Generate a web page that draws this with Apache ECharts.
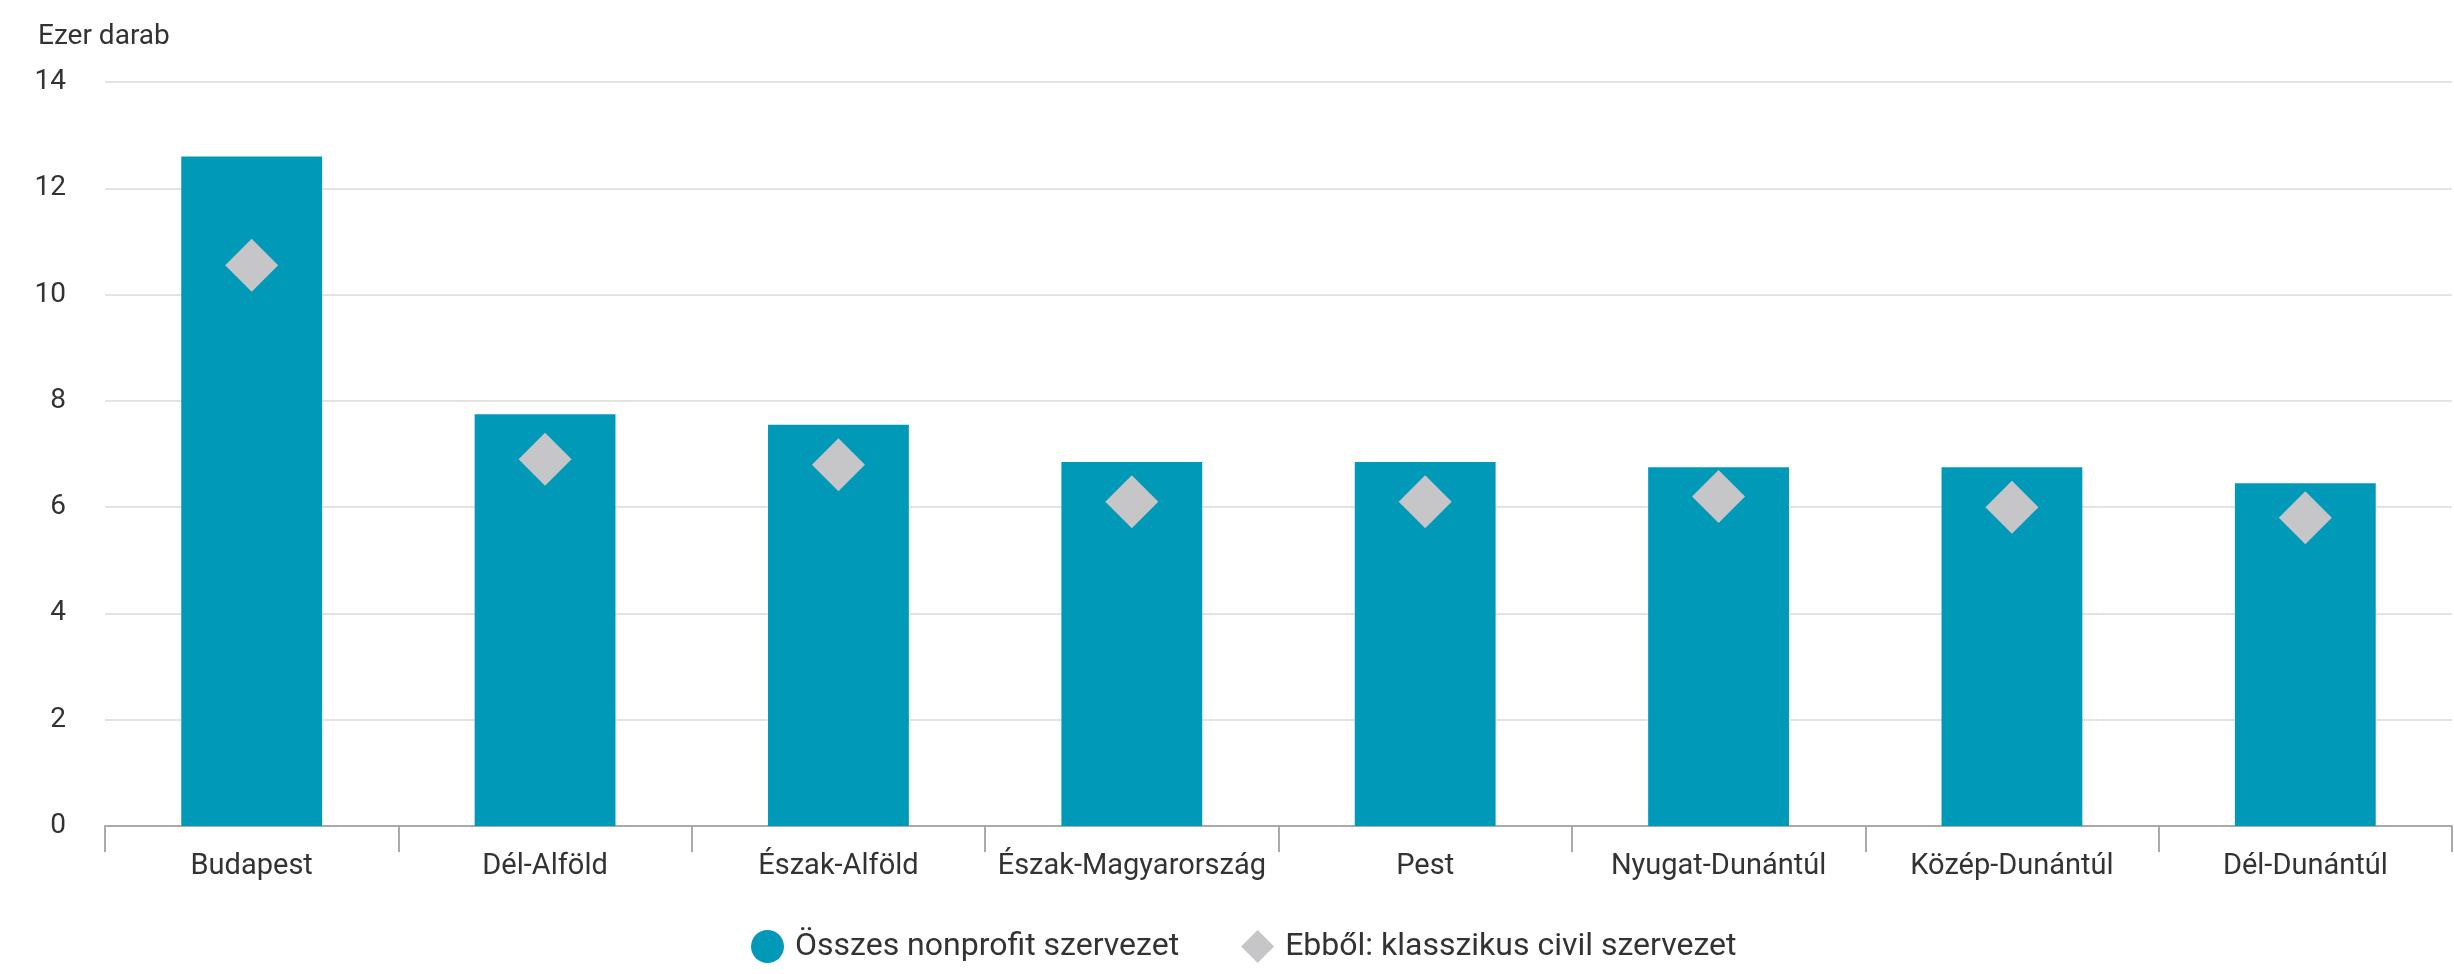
<!DOCTYPE html>
<html>
<head>
<meta charset="utf-8">
<script src="https://cdn.jsdelivr.net/npm/echarts@6/dist/echarts.min.js"></script>
<style>
  html, body { margin: 0; padding: 0; background: #fff; }
  #chart { width: 2454px; height: 974px; }
</style>
</head>
<body>
<div id="chart"></div>
<script>
// régiók
const regions = ['Budapest', 'Dél-Alföld', 'Észak-Alföld', 'Észak-Magyarország', 'Pest', 'Nyugat-Dunántúl', 'Közép-Dunántúl', 'Dél-Dunántúl']
// ezer darab
const totalNonprofit = [12.6, 7.75, 7.55, 6.85, 6.85, 6.75, 6.75, 6.45]
const classicCivil = [10.55, 6.9, 6.8, 6.1, 6.1, 6.2, 6.0, 5.8]
const seriesNames = ['Összes nonprofit szervezet', 'Ebből: klasszikus civil szervezet']
const unitLabel = 'Ezer darab'

const font = 'Roboto'
const textColor = '#333'

const chart = echarts.init(document.getElementById('chart'))

chart.setOption({
  animation: false,
  textStyle: { fontFamily: font },
  title: {
    text: unitLabel,
    left: 33,
    top: 18,
    textStyle: { fontFamily: font, fontSize: 28, fontWeight: 'normal', color: textColor }
  },
  legend: {
    bottom: 6,
    left: 746,
    itemWidth: 33,
    itemHeight: 33,
    itemGap: 62,
    textStyle: { fontFamily: font, fontSize: 32, color: textColor, padding: [0, 0, 0, 6] },
    data: [
      { name: seriesNames[0], icon: 'circle' },
      { name: seriesNames[1], icon: 'diamond' }
    ]
  },
  grid: {
    left: 105,
    right: 2,
    top: 82,
    bottom: 148,
    containLabel: false
  },
  xAxis: {
    type: 'category',
    data: regions,
    axisLine: { lineStyle: { color: '#aaa', width: 2 } },
    axisTick: { show: true, length: 26, lineStyle: { color: '#aaa', width: 2 } },
    axisLabel: { margin: 26, fontFamily: font, fontSize: 29, color: textColor, interval: 0 }
  },
  yAxis: {
    type: 'value',
    min: 0,
    max: 14,
    interval: 2,
    axisLine: { show: false },
    axisTick: { show: false },
    axisLabel: { margin: 39, fontFamily: font, fontSize: 28, color: textColor },
    splitLine: { lineStyle: { color: '#e3e3e3', width: 2 } }
  },
  series: [
    {
      name: seriesNames[0],
      type: 'bar',
      data: totalNonprofit,
      barWidth: '48%',
      itemStyle: { color: '#0099b8' }
    },
    {
      name: seriesNames[1],
      type: 'scatter',
      data: classicCivil,
      symbol: 'diamond',
      symbolSize: 53,
      itemStyle: { color: '#c6c6c8', opacity: 1 },
      z: 5
    }
  ]
})
</script>
</body>
</html>
